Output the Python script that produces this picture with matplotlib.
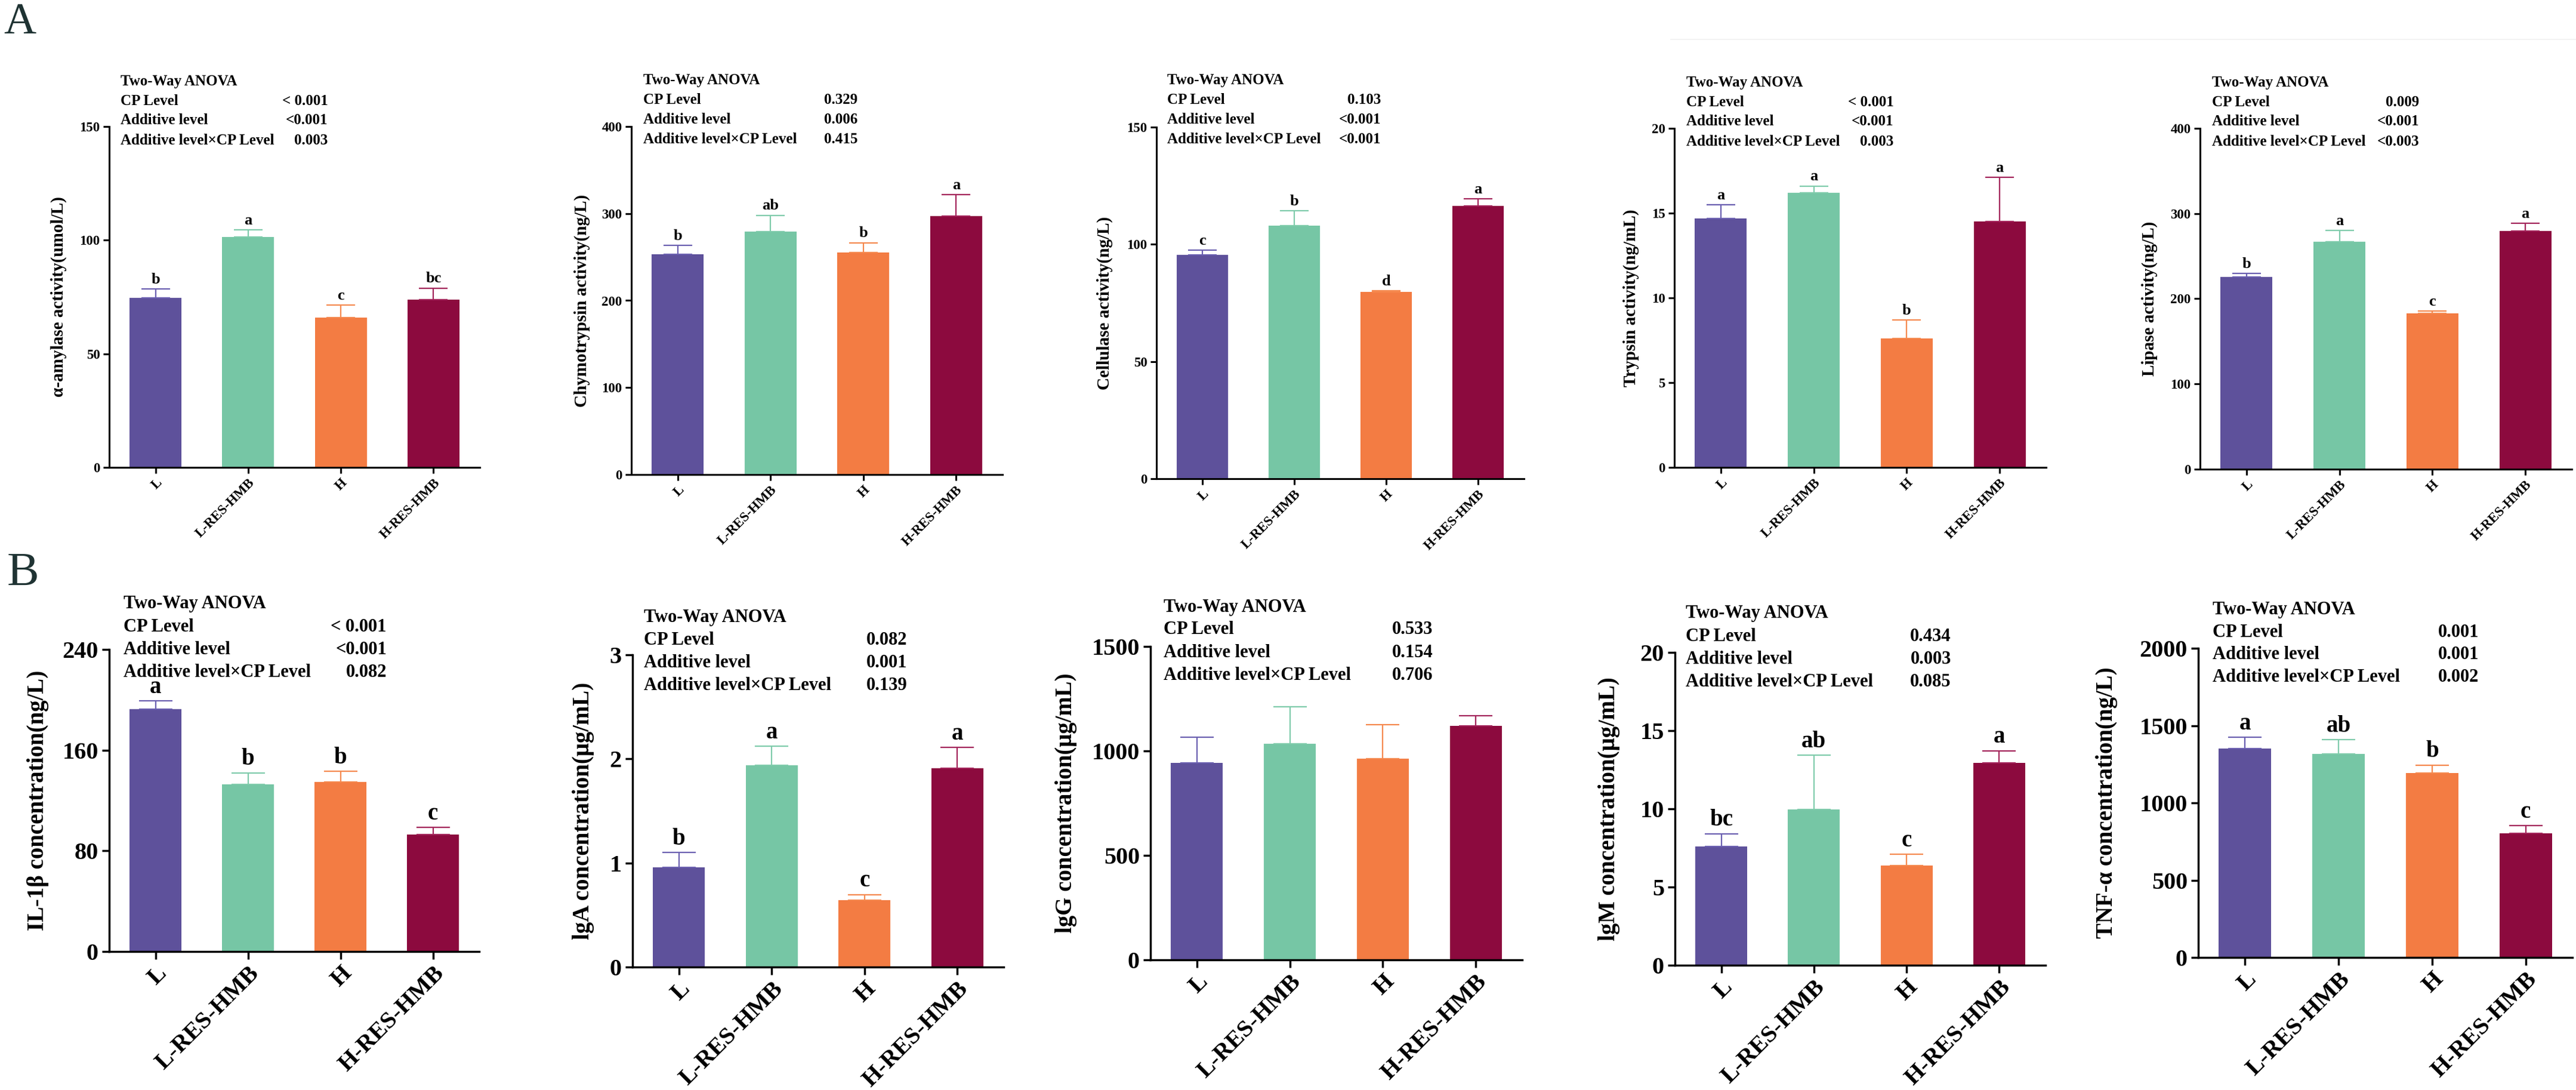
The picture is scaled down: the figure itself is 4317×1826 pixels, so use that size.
import matplotlib
matplotlib.use("Agg")
import matplotlib.pyplot as plt
from matplotlib.lines import Line2D

# figure size in pixels (saved at dpi 100)
W, H = 4317, 1826

plt.rcParams['font.family'] = ['Liberation Serif', 'DejaVu Serif']
plt.rcParams['font.weight'] = 'bold'
plt.rcParams['axes.labelweight'] = 'bold'

groups = ["L", "L-RES-HMB", "H", "H-RES-HMB"]
bar_colors = ["#5E519B", "#76C6A5", "#F37C43", "#8C0A3E"]
err_colors = ["#6A5FB0", "#7FCBAB", "#F5894F", "#A3245A"]

# ---- panel A: digestive enzymes ----
amylase_mean = [74.5, 101.4, 65.9, 73.8]
amylase_sem = [4.1, 3.1, 5.6, 5.1]
amylase_letters = ["b", "a", "c", "bc"]
amylase_anova = ["< 0.001", "<0.001", "0.003"]

chymo_mean = [253.5, 279.0, 255.0, 297.0]
chymo_sem = [9.9, 19.0, 11.5, 25.0]
chymo_letters = ["b", "ab", "b", "a"]
chymo_anova = ["0.329", "0.006", "0.415"]

cellulase_mean = [95.6, 108.0, 79.6, 116.5]
cellulase_sem = [2.0, 6.4, 0.5, 2.9]
cellulase_letters = ["c", "b", "d", "a"]
cellulase_anova = ["0.103", "<0.001", "<0.001"]

trypsin_mean = [14.7, 16.2, 7.6, 14.5]
trypsin_sem = [0.8, 0.4, 1.1, 2.6]
trypsin_letters = ["a", "a", "b", "a"]
trypsin_anova = ["< 0.001", "<0.001", "0.003"]

lipase_mean = [225.9, 266.7, 182.6, 279.6]
lipase_sem = [4.1, 13.7, 2.9, 8.9]
lipase_letters = ["b", "a", "c", "a"]
lipase_anova = ["0.009", "<0.001", "<0.003"]

# ---- panel B: immune indices ----
il1b_mean = [192.4, 132.7, 134.9, 92.8]
il1b_sem = [6.8, 9.3, 8.2, 5.7]
il1b_letters = ["a", "b", "b", "c"]
il1b_anova = ["< 0.001", "<0.001", "0.082"]

iga_mean = [0.96, 1.94, 0.64, 1.91]
iga_sem = [0.14, 0.18, 0.056, 0.20]
iga_letters = ["b", "a", "c", "a"]
iga_anova = ["0.082", "0.001", "0.139"]

igg_mean = [943, 1035, 964, 1119]
igg_sem = [123, 176, 162, 50]
igg_letters = ["", "", "", ""]
igg_anova = ["0.533", "0.154", "0.706"]

igm_mean = [7.6, 9.96, 6.39, 12.95]
igm_sem = [0.81, 3.48, 0.72, 0.77]
igm_letters = ["bc", "ab", "c", "a"]
igm_anova = ["0.434", "0.003", "0.085"]

tnf_mean = [1352, 1316, 1194, 802]
tnf_sem = [73, 94, 51, 51]
tnf_letters = ["a", "ab", "b", "c"]
tnf_anova = ["0.001", "0.001", "0.002"]

anova_rows = ["CP Level", "Additive level", "Additive level×CP Level"]

panels = [
    # (mean, sem, letters, anova, ylabel, ymax, ystep)
    (amylase_mean, amylase_sem, amylase_letters, amylase_anova, "α-amylase activity(umol/L)", 150, 50),
    (chymo_mean, chymo_sem, chymo_letters, chymo_anova, "Chymotrypsin activity(ng/L)", 400, 100),
    (cellulase_mean, cellulase_sem, cellulase_letters, cellulase_anova, "Cellulase activity(ng/L)", 150, 50),
    (trypsin_mean, trypsin_sem, trypsin_letters, trypsin_anova, "Trypsin activity(ng/mL)", 20, 5),
    (lipase_mean, lipase_sem, lipase_letters, lipase_anova, "Lipase activity(ng/L)", 400, 100),
    (il1b_mean, il1b_sem, il1b_letters, il1b_anova, "IL-1β concentration(ng/L)", 240, 80),
    (iga_mean, iga_sem, iga_letters, iga_anova, "lgA concentration(μg/mL)", 3, 1),
    (igg_mean, igg_sem, igg_letters, igg_anova, "lgG concentration(μg/mL)", 1500, 500),
    (igm_mean, igm_sem, igm_letters, igm_anova, "lgM concentration(μg/mL)", 20, 5),
    (tnf_mean, tnf_sem, tnf_letters, tnf_anova, "TNF-α concentration(ng/L)", 2000, 500),
]

# layout in pixels: left, right, top, bottom of each plot area
boxes = [
    (183, 804, 212, 783), (1058, 1680, 212, 795), (1938, 2554, 213, 802),
    (2806, 3429, 215, 783), (3687, 4310, 215, 786),
    (183, 803, 1088, 1594), (1060, 1682, 1097, 1620), (1928, 2551, 1083, 1608),
    (2807, 3428, 1093, 1617), (3684, 4311, 1086, 1604),
]
ylab_off = [-71, -69, -73, -59, -71, -101, -64, -123, -92, -135]
anova_top = [136, 134, 134, 138, 138, 1012, 1034, 1017, 1028, 1021]
anova_left = [19, 20, 18, 20, 20, 24, 19, 22, 18, 24]
anova_right = [0.59, 0.61, 0.61, 0.59, 0.59, 0.75, 0.74, 0.76, 0.745, 0.75]

row_style = {
    "A": dict(tick=16.5, ylab=21, anova=18, letter=19, lw=2.2, spacing=33, ticklen=7, cap=17),
    "B": dict(tick=29, ylab=28, anova=22, letter=28, lw=2.5, spacing=38, ticklen=9, cap=20),
}

fig = plt.figure(figsize=(W / 100, H / 100), dpi=100)
fig.patch.set_facecolor("white")

x = list(range(len(groups)))

for i, (mean, sem, letters, anova, ylabel, ymax, ystep) in enumerate(panels):
    st = row_style["A" if i < 5 else "B"]
    l, r, t, b = boxes[i]
    ax = fig.add_axes([l / W, 1 - b / H, (r - l) / W, (b - t) / H])

    ax.bar(x, mean, width=0.56, color=bar_colors, zorder=2)
    for j in x:
        ax.errorbar(x[j], mean[j], yerr=[[0], [sem[j]]], fmt="none",
                    ecolor=err_colors[j], elinewidth=1.6, capsize=st["cap"],
                    capthick=1.6, zorder=3)
        if letters[j]:
            ax.annotate(letters[j], (x[j], mean[j] + sem[j]), xytext=(0, 3),
                        textcoords="offset points", ha="center", va="bottom",
                        fontsize=st["letter"], fontweight="bold")

    ax.set_xlim(-0.5, 3.5)
    ax.set_ylim(0, ymax)
    ticks = [k * ystep for k in range(int(round(ymax / ystep)) + 1)]
    ax.set_yticks(ticks)
    ax.set_yticklabels([f"{v:g}" for v in ticks])
    ax.set_xticks(x)
    ax.set_xticklabels(groups, rotation=45, ha="right", rotation_mode="anchor")

    for side in ("top", "right"):
        ax.spines[side].set_visible(False)
    for side in ("left", "bottom"):
        ax.spines[side].set_linewidth(st["lw"])
    ax.tick_params(axis="both", width=st["lw"], length=st["ticklen"],
                   labelsize=st["tick"], direction="out", pad=4)

    ax.set_ylabel(ylabel, fontsize=st["ylab"], fontweight="bold")
    ax.yaxis.set_label_coords(ylab_off[i] / (r - l), 0.5)

    # two-way ANOVA block above the plot
    xl = (l + anova_left[i]) / W
    xr = (l + anova_right[i] * (r - l)) / W
    rows = ["Two-Way ANOVA"] + anova_rows
    vals = [""] + anova
    for k in range(4):
        yy = 1 - (anova_top[i] + k * st["spacing"]) / H
        fig.text(xl, yy, rows[k], ha="left", va="center", fontsize=st["anova"], fontweight="bold")
        if vals[k]:
            fig.text(xr, yy, vals[k], ha="right", va="center", fontsize=st["anova"], fontweight="bold")

# panel letters
fig.text(6 / W, 1 - 38 / H, "A", ha="left", va="center", fontsize=54, fontweight="normal", color="#1F3333")
fig.text(12 / W, 1 - 961 / H, "B", ha="left", va="center", fontsize=58, fontweight="normal", color="#1F3333")

# faint scan lines at the top of the last two upper panels
fig.add_artist(Line2D([2800 / W, 4317 / W], [1 - 66 / H, 1 - 66 / H], color="#F0F0F0", lw=1.2))

fig.savefig("out.png", dpi=100, facecolor="white")
